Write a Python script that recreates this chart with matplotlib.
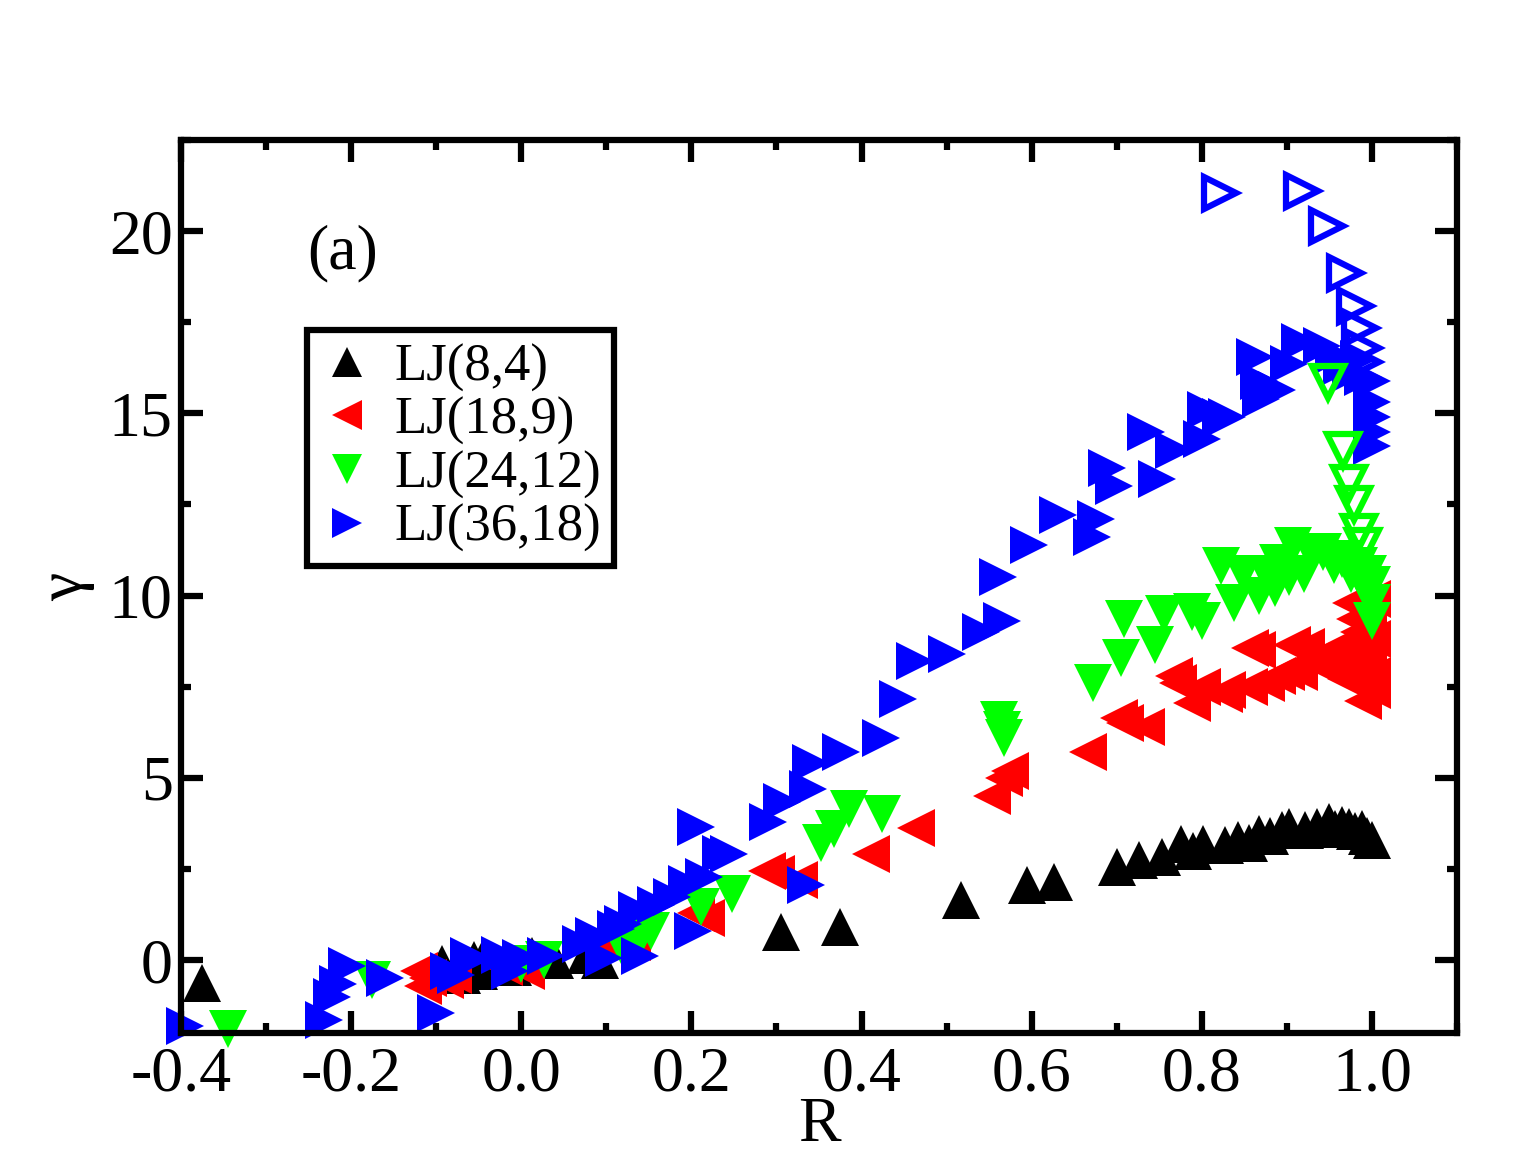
import matplotlib
matplotlib.use("Agg")
import matplotlib.pyplot as plt
from matplotlib.ticker import MultipleLocator, FormatStrFormatter

# ---- data ----------------------------------------------------------------
# LJ(8,4)
x_84 = [-0.375, -0.093, -0.07, -0.056, -0.05, -0.046, -0.039, -0.03, -0.01,
        0.013, 0.04, 0.076, 0.093, 0.305, 0.375, 0.517, 0.594, 0.626,
        0.70, 0.726, 0.753, 0.776, 0.79, 0.802, 0.827, 0.843, 0.855, 0.867,
        0.88, 0.894, 0.903, 0.921, 0.935, 0.949, 0.957, 0.965, 0.973, 0.98,
        0.988, 0.994, 1.0]
y_84 = [-0.63, -0.1, -0.4, 0.0, -0.3, 0.0, -0.1, -0.1, -0.2,
        0.1, 0.0, 0.14, 0.0, 0.77, 0.9, 1.65, 2.06, 2.14,
        2.55, 2.75, 2.83, 3.19, 3.0, 3.19, 3.16, 3.3, 3.2, 3.46,
        3.4, 3.57, 3.65, 3.57, 3.65, 3.79, 3.6, 3.71, 3.65, 3.55,
        3.6, 3.4, 3.3]

# LJ(18,9)
x_189 = [-0.12, -0.115, -0.11, -0.09, -0.08, -0.02, -0.005, 0.005, 0.11, 0.13,
         0.205, 0.217, 0.289, 0.30, 0.327, 0.411, 0.464, 0.553, 0.568, 0.574,
         0.666, 0.703, 0.71, 0.735, 0.767, 0.772, 0.788, 0.80, 0.826, 0.83,
         0.855, 0.857, 0.865, 0.876, 0.888, 0.899, 0.906, 0.914, 0.922, 0.928,
         0.94, 0.95, 0.96, 0.97, 0.975, 0.98, 0.985, 0.99, 0.995, 1.0,
         1.0, 1.0, 0.99, 0.995, 1.0, 0.99, 0.985, 0.97, 0.96]
y_189 = [-0.3, -0.7, -0.5, -0.55, -0.4, -0.2, -0.1, -0.3, 0.35, 0.5,
         1.3, 1.15, 2.45, 2.35, 2.2, 2.9, 3.63, 4.5, 5.0, 5.2,
         5.7, 6.65, 6.5, 6.4, 7.8, 7.6, 7.05, 7.5, 7.3, 7.4,
         7.5, 8.55, 8.5, 7.6, 7.8, 7.9, 8.65, 7.9, 8.6, 8.2,
         8.3, 8.0, 8.1, 8.4, 9.8, 9.35, 9.0, 8.6, 8.2, 7.8,
         9.9, 7.4, 7.1, 9.4, 8.8, 7.9, 7.6, 7.7, 8.6]

# LJ(24,12)
x_2412 = [-0.345, -0.176, 0.0, 0.027, 0.12, 0.14, 0.152, 0.211, 0.248, 0.352,
          0.368, 0.385, 0.424, 0.562, 0.565, 0.568, 0.672, 0.705, 0.709, 0.745,
          0.755, 0.788, 0.80, 0.822, 0.838, 0.848, 0.867, 0.875, 0.886, 0.89,
          0.902, 0.907, 0.92, 0.93, 0.943, 0.955, 0.965, 0.975, 0.985, 0.99,
          0.995, 1.0, 1.0, 1.0]
y_2412 = [-1.9, -0.55, -0.1, 0.0, 0.3, 0.6, 0.8, 1.45, 1.8, 3.2,
          3.6, 4.15, 4.0, 6.6, 6.3, 6.1, 7.6, 8.3, 9.35, 8.65,
          9.5, 9.55, 9.3, 10.8, 9.8, 10.6, 10.0, 10.6, 10.2, 10.9,
          10.5, 11.35, 10.6, 11.1, 11.2, 10.85, 11.0, 10.6, 10.8, 10.3,
          10.6, 9.3, 9.8, 10.3]
x_2412_open = [0.948, 0.966, 0.973, 0.979, 0.985, 0.99]
y_2412_open = [15.85, 14.0, 13.1, 12.5, 11.75, 11.35]

# LJ(36,18)
x_3618 = [-0.395, -0.232, -0.222, -0.216, -0.205, -0.16, -0.1, -0.085, -0.077,
          -0.062, -0.06, -0.025, -0.013, 0.0, 0.029, 0.07, 0.085, 0.097, 0.111,
          0.12, 0.136, 0.14, 0.158, 0.177, 0.195, 0.202, 0.205, 0.215, 0.235,
          0.244, 0.29, 0.306, 0.335, 0.337, 0.341, 0.376, 0.423, 0.443, 0.463,
          0.5, 0.54, 0.56, 0.565, 0.597, 0.631, 0.671, 0.676, 0.688, 0.697,
          0.735, 0.747, 0.767, 0.8, 0.805, 0.823, 0.83, 0.862, 0.867, 0.87,
          0.888, 0.902, 0.915, 0.941, 0.955, 0.965, 0.975, 0.985, 0.99, 1.0,
          1.0, 1.0, 1.0, 1.0]
y_3618 = [-1.8, -1.65, -1.0, -0.65, -0.15, -0.5, -1.45, -0.3, -0.4,
          0.1, 0.0, 0.15, -0.3, 0.05, 0.1, 0.45, 0.65, 0.05, 0.85,
          1.0, 1.37, 0.1, 1.5, 1.73, 2.1, 0.8, 3.65, 2.28, 2.9,
          2.9, 3.8, 4.35, 2.05, 4.7, 5.4, 5.7, 6.1, 7.15, 8.2,
          8.4, 9.0, 10.5, 9.3, 11.4, 12.2, 11.6, 12.1, 13.5, 13.0,
          14.5, 13.2, 14.0, 14.3, 15.1, 14.9, 14.9, 16.55, 15.9, 15.4,
          15.65, 16.35, 16.95, 16.85, 16.6, 16.3, 16.1, 16.5, 16.0, 15.9,
          15.3, 14.9, 14.5, 14.1]
x_3618_open = [0.821, 0.918, 0.947, 0.968, 0.98, 0.986, 0.99, 0.99]
y_3618_open = [21.05, 21.1, 20.15, 18.85, 17.95, 17.35, 16.8, 16.4]

labels = ["LJ(8,4)", "LJ(18,9)", "LJ(24,12)", "LJ(36,18)"]

# ---- figure ---------------------------------------------------------------
plt.rcParams["font.family"] = ["Liberation Serif", "DejaVu Serif"]

fig = plt.figure(figsize=(15.15, 11.53), dpi=100)
ax = fig.add_axes([0.1195, 0.1041, 0.8422, 0.7745])

ms = 27
ax.plot(x_84, y_84, ls="none", marker="^", ms=ms, mew=0, color="black",
        clip_on=False, label=labels[0])
ax.plot(x_189, y_189, ls="none", marker="<", ms=ms, mew=0, color="#ff0000",
        clip_on=False, label=labels[1])
ax.plot(x_2412, y_2412, ls="none", marker="v", ms=ms, mew=0, color="#00ff00",
        clip_on=False, label=labels[2])
ax.plot(x_3618, y_3618, ls="none", marker=">", ms=ms, mew=0, color="#0000ff",
        clip_on=False, label=labels[3])
# open symbols
ax.plot(x_3618_open, y_3618_open, ls="none", marker=">", ms=23, mew=4.5,
        mfc="none", mec="#0000ff", clip_on=False)
ax.plot(x_2412_open, y_2412_open, ls="none", marker="v", ms=23, mew=4.5,
        mfc="none", mec="#00ff00", clip_on=False)

ax.set_xlim(-0.4, 1.1)
ax.set_ylim(-2, 22.5)
ax.xaxis.set_major_locator(MultipleLocator(0.2))
ax.xaxis.set_minor_locator(MultipleLocator(0.1))
ax.yaxis.set_major_locator(MultipleLocator(5))
ax.yaxis.set_minor_locator(MultipleLocator(2.5))
ax.xaxis.set_major_formatter(FormatStrFormatter("%.1f"))
ax.yaxis.set_major_formatter(FormatStrFormatter("%d"))

for s in ax.spines.values():
    s.set_linewidth(4.5)
ax.tick_params(which="both", direction="in", top=True, right=True,
               width=4.5, labelsize=46)
ax.tick_params(which="major", length=16)
ax.tick_params(which="minor", length=7)
ax.tick_params(axis="x", pad=10)
ax.tick_params(axis="y", pad=6)

ax.set_xlabel("R", fontsize=46, labelpad=-6)
ax.set_ylabel("γ", fontsize=46, labelpad=10)

ax.text(-0.21, 19.4, "(a)", fontsize=46, ha="center", va="center")

leg = ax.legend(loc="upper left", bbox_to_anchor=(0.0987, 0.787),
                borderaxespad=0, fontsize=38, markerscale=0.8,
                handlelength=1.0, handletextpad=0.4, labelspacing=0.1,
                borderpad=0.25, fancybox=False, framealpha=1)
leg.get_frame().set_edgecolor("black")
leg.get_frame().set_linewidth(4.5)

fig.savefig("out.png", dpi=100)
